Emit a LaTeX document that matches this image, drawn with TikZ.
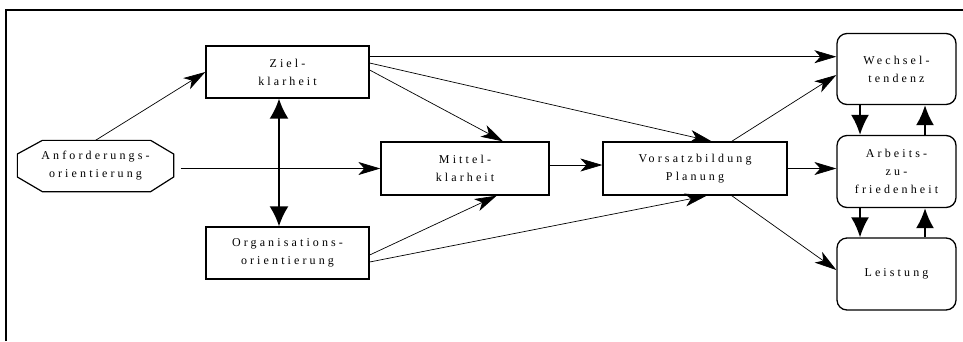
\documentclass[tikz,border=0pt]{standalone}
\usepackage{fontspec}
\setmainfont{Liberation Serif}[LetterSpace=26]
\usetikzlibrary{arrows.meta,calc}
\begin{document}
\begin{tikzpicture}[x=1pt,y=-1pt,
  box/.style={draw,line width=1.3pt,inner sep=0pt,align=center,
    font=\fontsize{12}{18}\selectfont},
  rbox/.style={box,rounded corners=10pt},
  arr/.style={line width=0.7pt,-{Stealth[length=22pt,width=13pt,inset=6pt]}},
  tarr/.style={line width=2pt,-{Latex[length=20pt,width=18pt]}},
  darr/.style={line width=2pt,{Latex[length=20pt,width=19pt]}-{Latex[length=20pt,width=19pt]}}]
\useasboundingbox (0,0) rectangle (963,341);
\draw[line width=1.2pt] (6,341) -- (6,10) -- (963,10);
% nodes
\node[box,minimum width=163pt,minimum height=52pt] (ziel) at (287.5,72) {Ziel-\\klarheit};
\node[box,minimum width=163pt,minimum height=52pt] (org) at (287.5,253) {Organisations-\\orientierung};
\node[box,draw=none,minimum width=155pt,minimum height=50pt] (anf) at (95.5,166) {Anforderungs-\\orientierung};
\draw[line width=1.2pt] ($(anf.west)+(0,-12)$) -- ($(anf.north west)+(25,0)$) -- ($(anf.north east)+(-23,0)$)
  -- ($(anf.east)+(0,-12)$) -- ($(anf.east)+(0,11)$) -- ($(anf.south east)+(-23,0)$)
  -- ($(anf.south west)+(25,0)$) -- ($(anf.west)+(0,11)$) -- cycle;
\node[box,minimum width=168pt,minimum height=53pt] (mit) at (465,168.5) {Mittel-\\klarheit};
\node[box,minimum width=184pt,minimum height=53pt] (vor) at (695,168.5) {Vorsatzbildung\\Planung};
\node[rbox,minimum width=119pt,minimum height=71pt] (wech) at (896.5,69) {Wechsel-\\tendenz};
\node[rbox,minimum width=119pt,minimum height=72pt] (arb) at (896.5,171.5) {Arbeits-\\zu-\\friedenheit};
\node[rbox,minimum width=119pt,minimum height=72pt] (lei) at (896.5,274) {Leistung};
% connectors
\draw[arr] (anf.north) -- (ziel.west);
\draw[arr] ($(mit.west -| anf.east)+(7,0)$) -- (mit.west);
\draw[darr] ([xshift=-8.5pt]ziel.south) -- ([xshift=-8.5pt]org.north);
\draw[arr] ([yshift=15.3pt]ziel.east) -- ([yshift=15.3pt]ziel.east -| wech.west);
\draw[arr] ([yshift=9pt]ziel.east) -- ([xshift=16.7pt]vor.north);
\draw[arr] ([yshift=2pt]ziel.east) -- ([xshift=38pt]mit.north);
\draw[arr] ([yshift=-2pt]org.east) -- ([xshift=31.7pt]mit.south);
\draw[arr] ([yshift=-9pt]org.east) -- ([xshift=11.7pt]vor.south);
\draw[arr] ([yshift=3.5pt]mit.east) -- ([yshift=3.5pt]mit.east -| vor.west);
\draw[arr] ([xshift=36.7pt]vor.north) -- ([yshift=-6pt]wech.west);
\draw[arr] (vor.east) -- (vor.east -| arb.west);
\draw[arr] ([xshift=36.7pt]vor.south) -- ([yshift=4pt]lei.west);
\draw[tarr] ([xshift=-36.5pt]wech.south) -- ([xshift=-36.5pt]arb.north);
\draw[tarr] ([xshift=28.5pt]arb.north) -- ([xshift=28.5pt]wech.south);
\draw[tarr] ([xshift=-36.5pt]arb.south) -- ([xshift=-36.5pt]lei.north);
\draw[tarr] ([xshift=28.5pt]lei.north) -- ([xshift=28.5pt]arb.south);
\end{tikzpicture}
\end{document}
